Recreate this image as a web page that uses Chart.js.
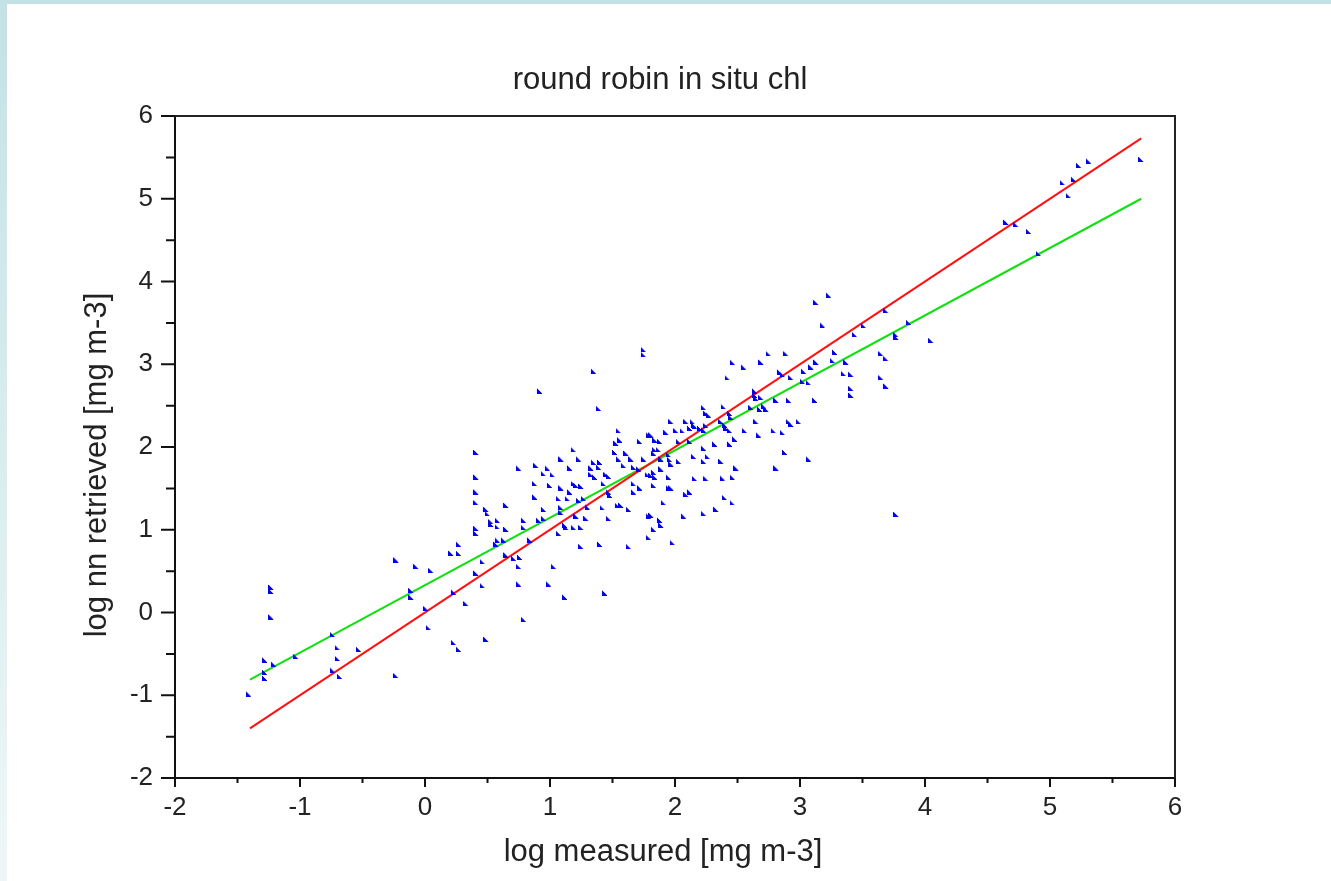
<!DOCTYPE html>
<html>
<head>
<meta charset="utf-8">
<script src="https://cdn.jsdelivr.net/npm/chart.js@4/dist/chart.umd.min.js"></script>
<style>
  html, body { margin: 0; padding: 0; }
  body {
    width: 1331px;
    height: 881px;
    position: relative;
    overflow: hidden;
    background: linear-gradient(to bottom, #c2e2e6, #eef7f8);
  }
  #panel {
    position: absolute;
    left: 7px;
    top: 4px;
    right: 0;
    bottom: 0;
    background: #fff;
  }
  #myChart { position: absolute; left: 0; top: 0; }
</style>
</head>
<body>
<div id="panel"></div>
<canvas id="myChart" width="1331" height="881"></canvas>
<script>
const measured = [
  -1.41, -1.28, -1.21, -1.28, -1.28, -1.23, -1.23, -1.23, -1.03, -0.74, -0.70, -0.53,
  -0.70, -0.74, -0.68, -0.23, -0.23, -0.07, 0.05, -0.11, -0.11, 0.01, 0.03,
  1.39, 1.55, 1.56, 1.53, 1.72, 1.79, 0.41, 1.19, 1.52, 1.61, 1.65, 1.55, 1.75, 1.09,
  1.23, 0.89, 0.75, 0.98, 1.16, 1.35, 1.40, 1.39, 1.33, 1.59, 1.67, 0.95, 1.02, 1.33,
  1.36, 1.45, 1.47, 1.71, 1.78, 0.41, 0.88, 1.00, 1.19, 1.21, 1.25, 1.43, 1.09, 1.16,
  1.47, 1.48, 1.67, 1.72, 0.41, 0.88, 1.07, 1.14, 1.23, 1.27, 0.41, 0.65, 0.95, 1.09,
  1.09, 1.30, 1.42, 1.54, 1.57, 1.63, 0.49, 0.50, 1.21, 1.29, 1.47, 1.79, 0.58, 0.53,
  0.53, 0.79, 0.95, 0.91, 0.58, 0.79, 0.65, 1.12, 1.13, 1.19, 1.25, 0.41, 0.41, 1.07,
  0.58, 0.63, 0.57, 0.84, 1.25, 1.40, 1.63, 0.27, 0.21, 0.27, 1.79, 0.65, 0.71, 0.76,
  0.46, 0.75, 1.03, 0.41, 0.75, 0.99, 0.46, 0.33, 1.12, 1.44, 0.23, 0.79, 0.23, 0.27,
  0.49,
  1.75, 1.75, 2.75, 2.89, 2.46, 2.55, 2.69, 3.28, 2.42, 2.84, 2.86, 2.93, 3.03, 3.09,
  3.13, 3.26, 3.37, 3.35, 3.41, 3.02, 3.07, 3.65, 3.69, 3.65, 3.69, 3.41, 3.41, 3.77,
  3.44, 2.64, 2.64, 2.65, 2.69, 2.71, 2.68, 2.73, 2.61, 2.81, 2.91, 3.12, 2.39, 2.44,
  2.45, 2.23, 2.25, 2.27, 2.65, 1.97, 2.09, 2.91, 2.93, 2.99, 2.14, 2.15, 2.12, 2.16,
  2.20, 2.25, 2.23, 2.37, 2.40, 2.41, 2.44, 2.56, 2.67, 2.79, 2.86, 2.01, 2.06, 2.03,
  1.93, 1.81, 1.84, 1.88, 2.12, 2.23, 2.32, 2.44, 2.48, 1.84, 1.83, 1.87, 1.89, 1.95,
  1.96, 2.03, 1.97, 2.15, 2.26, 2.37, 2.23, 1.83, 1.81, 1.84, 1.89, 1.95, 2.49, 2.46,
  2.25, 2.16, 1.83, 1.67, 1.97, 1.95, 2.09, 2.12, 2.40, 2.46, 2.33, 2.23, 2.07, 1.91,
  1.81, 1.88, 1.89, 1.83, 1.98, 3.77, 2.88, 3.07, 2.81, 2.38,
  4.65, 4.73, 4.83, 4.91, 3.69, 3.51, 3.87, 3.77, 4.05, 5.23, 5.31, 5.10, 5.19, 5.15,
  5.73, 1.35, 0.92, 3.13, 3.23, 3.18
]
const retrieved = [
  -0.98, -0.57, -0.62, -0.72, -0.79, 0.31, 0.26, -0.05, -0.53, -0.26, -0.42, -0.44,
  -0.55, -0.69, -0.77, -0.76, 0.64, 0.56, 0.51, 0.27, 0.19, 0.05, -0.18,
  2.47, 2.20, 2.09, 2.05, 2.07, 2.15, 1.94, 1.97, 1.94, 1.93, 1.86, 1.86, 1.86, 1.86,
  1.86, 1.78, 1.75, 1.75, 1.75, 1.82, 1.82, 1.76, 1.75, 1.78, 1.76, 1.68, 1.67, 1.67,
  1.64, 1.67, 1.65, 1.74, 1.67, 1.64, 1.56, 1.54, 1.56, 1.54, 1.53, 1.56, 1.51, 1.46,
  1.46, 1.42, 1.46, 1.51, 1.46, 1.40, 1.38, 1.38, 1.36, 1.38, 1.33, 1.30, 1.25, 1.27,
  1.21, 1.28, 1.27, 1.30, 1.30, 1.25, 1.25, 1.20, 1.17, 1.14, 1.14, 1.17, 1.12, 1.10,
  1.07, 1.12, 1.14, 1.12, 1.04, 1.03, 1.01, 1.06, 1.03, 1.03, 1.03, 1.02, 0.96, 0.96,
  0.88, 0.88, 0.83, 0.88, 0.80, 0.83, 0.80, 0.83, 0.72, 0.72, 0.91, 0.70, 0.66, 0.67,
  0.62, 0.56, 0.56, 0.48, 0.35, 0.35, 0.33, 0.11, 0.19, 0.24, 0.25, -0.08, -0.36, -0.44,
  -0.32,
  3.18, 3.12, 3.13, 3.13, 3.03, 2.97, 3.03, 3.15, 2.84, 2.91, 2.88, 2.84, 2.92, 2.97,
  3.03, 3.05, 3.03, 2.89, 2.88, 2.80, 2.78, 3.13, 3.07, 2.84, 2.74, 2.71, 2.63, 3.36,
  3.36, 2.68, 2.63, 2.59, 2.60, 2.50, 2.46, 2.46, 2.48, 2.57, 2.57, 2.57, 2.49, 2.41,
  2.36, 2.48, 2.41, 2.39, 2.31, 2.31, 2.31, 2.31, 2.28, 2.31, 2.31, 2.27, 2.23, 2.25,
  2.23, 2.26, 2.21, 2.31, 2.27, 2.23, 2.20, 2.20, 2.15, 2.20, 2.18, 2.20, 2.20, 2.07,
  2.18, 2.15, 2.09, 2.07, 2.07, 1.99, 2.04, 2.04, 2.10, 1.97, 1.93, 1.97, 1.86, 1.91,
  1.85, 1.83, 1.80, 1.89, 1.89, 1.83, 1.83, 1.70, 1.66, 1.64, 1.74, 1.64, 1.75, 1.64,
  1.62, 1.62, 1.54, 1.56, 1.51, 1.51, 1.43, 1.46, 1.39, 1.33, 1.25, 1.20, 1.17, 1.33,
  1.18, 1.12, 1.06, 1.01, 0.85, 1.19, 1.94, 1.86, 1.75, 1.63,
  4.72, 4.69, 4.61, 4.34, 3.65, 3.47, 3.51, 3.33, 3.29, 5.41, 5.46, 5.20, 5.24, 5.04,
  5.48, 2.92, 2.68, 3.75, 3.84, 3.48
]

// regression line and 1:1 line end points
const lineX = [-1.4, 5.73]
const oneToOneY = [-1.4, 5.73]
const fitY = [-0.81, 5.0]

const xTickValues = [-2, -1, 0, 1, 2, 3, 4, 5, 6]

const titleText = 'round robin in situ chl'
const xTitle = 'log measured [mg m-3]'
const yTitle = 'log nn retrieved [mg m-3]'

const font = 'Liberation Sans, Arial, sans-serif'

// small blue corner marker like the original plot symbol (pixel staircase)
const marker = document.createElement('canvas')
marker.width = 6
marker.height = 6
const mctx = marker.getContext('2d')
mctx.fillStyle = '#0000ff'
for (let r = 0; r < 5; r++) {
  mctx.fillRect(0, r + 1, r + 1, 1)
}

const frameTicks = {
  id: 'frameTicks',
  afterDraw(chart) {
    const { ctx, chartArea: a, scales } = chart
    ctx.save()
    ctx.strokeStyle = '#222'
    ctx.lineWidth = 2
    ctx.beginPath()
    ctx.moveTo(a.left, a.top)
    ctx.lineTo(a.right, a.top)
    ctx.lineTo(a.right, a.bottom)
    ctx.stroke()

    ctx.strokeStyle = '#111'
    ctx.beginPath()
    scales.x.ticks.forEach(t => {
      const px = scales.x.getPixelForValue(t.value)
      const len = Number.isInteger(t.value) ? 9 : 5
      ctx.moveTo(px, a.bottom)
      ctx.lineTo(px, a.bottom + len)
    })
    scales.y.ticks.forEach(t => {
      const py = scales.y.getPixelForValue(t.value)
      const len = Number.isInteger(t.value) ? 14 : 9
      ctx.moveTo(a.left, py)
      ctx.lineTo(a.left - len, py)
    })
    ctx.stroke()

    // axis titles, placed like the original figure
    ctx.fillStyle = '#222'
    ctx.font = '31px ' + font
    ctx.textAlign = 'center'
    ctx.textBaseline = 'middle'
    ctx.fillText(xTitle, 663, 852)
    ctx.translate(97, 465)
    ctx.rotate(-Math.PI / 2)
    ctx.fillText(yTitle, 0, 0)
    ctx.restore()
  }
}

const points = measured.map((x, i) => ({ x, y: retrieved[i] }))

const config = {
  type: 'scatter',
  data: {
    datasets: [
      {
        label: 'data',
        data: points,
        pointStyle: marker,
        pointRadius: 3,
        order: 0
      },
      {
        label: '1:1',
        type: 'line',
        data: lineX.map((x, i) => ({ x, y: oneToOneY[i] })),
        borderColor: '#ff1010',
        borderWidth: 2,
        pointRadius: 0,
        order: 1
      },
      {
        label: 'fit',
        type: 'line',
        data: lineX.map((x, i) => ({ x, y: fitY[i] })),
        borderColor: '#10e010',
        borderWidth: 2,
        pointRadius: 0,
        order: 2
      }
    ]
  },
  options: {
    responsive: false,
    animation: false,
    layout: { padding: { left: 0, right: 11, top: 0, bottom: 0 } },
    plugins: {
      legend: { display: false },
      tooltip: { enabled: false },
      title: {
        display: true,
        text: titleText,
        color: '#222',
        font: { family: font, size: 31, weight: 'normal', lineHeight: 1.2 },
        padding: { top: 61.4, bottom: 17.4 }
      }
    },
    scales: {
      x: {
        type: 'linear',
        min: -2,
        max: 6,
        afterBuildTicks: scale => {
          const t = []
          for (let i = 0; i <= 16; i++) t.push({ value: -2 + i * 0.5 })
          scale.ticks = t
        },
        afterFit: scale => { scale.height = 103 },
        grid: { display: false, drawTicks: false },
        border: { display: true, color: '#111', width: 2 },
        ticks: {
          autoSkip: false,
          maxRotation: 0,
          padding: 14,
          color: '#222',
          font: { family: font, size: 26 },
          callback: v => (xTickValues.includes(v) ? String(v) : '')
        }
      },
      y: {
        type: 'linear',
        min: -2,
        max: 6,
        afterBuildTicks: scale => {
          const t = []
          for (let i = 0; i <= 16; i++) t.push({ value: -2 + i * 0.5 })
          scale.ticks = t
        },
        afterFit: scale => { scale.width = 175 },
        grid: { display: false, drawTicks: false },
        border: { display: true, color: '#111', width: 2 },
        ticks: {
          autoSkip: false,
          padding: 22,
          color: '#222',
          font: { family: font, size: 26 },
          callback: v => (Number.isInteger(v) ? String(v) : '')
        }
      },
      yr: {
        type: 'linear',
        position: 'right',
        display: true,
        afterFit: scale => { scale.width = 145 },
        grid: { display: false },
        border: { display: false },
        ticks: { display: false }
      }
    }
  },
  plugins: [frameTicks]
}

const myChart = new Chart(
  document.getElementById('myChart'),
  config
)
</script>
</body>
</html>
